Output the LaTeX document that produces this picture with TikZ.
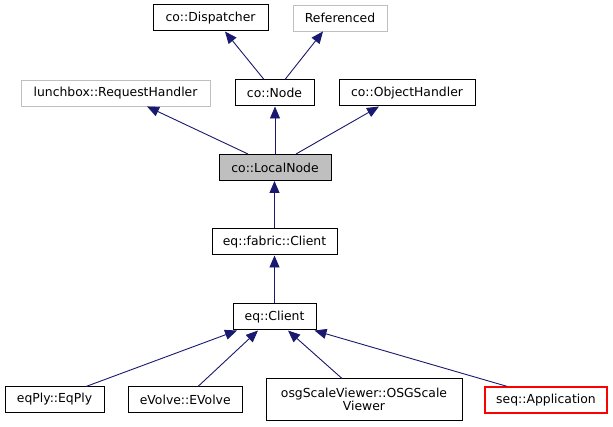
\documentclass[tikz,border=0pt]{standalone}
\usepackage{fontspec}
\setmainfont{DejaVu Sans}
\usetikzlibrary{arrows.meta}
\definecolor{edgeblue}{HTML}{191970}
\definecolor{greyline}{HTML}{BFBFBF}
\definecolor{localfill}{HTML}{BFBFBF}
\definecolor{redline}{HTML}{FF0000}
\begin{document}
\begin{tikzpicture}[x=1pt,y=-1pt,
  box/.style={draw=black,line width=1pt,fill=white,inner sep=0pt,align=center,
    minimum height=26pt,font=\fontsize{12.4}{14}\selectfont},
  greybox/.style={box,draw=greyline,line width=0.9pt},
  redbox/.style={box,draw=redline,line width=1.3pt},
  inh/.style={draw=edgeblue,line width=0.9pt,-{Triangle[length=12pt,width=10pt]},edgeblue}]
\useasboundingbox[fill=white] (0,0) rectangle (613,427);

\node[box,minimum width=115pt] (disp) at (210.5,18) {co::Dispatcher};
\node[greybox,minimum width=94pt] (ref) at (340,18) {Referenced};
\node[greybox,minimum width=189pt] (rh) at (115.5,93) {lunchbox::RequestHandler};
\node[box,minimum width=79pt] (cnode) at (274.5,93) {co::Node};
\node[box,minimum width=136pt] (oh) at (407,93) {co::ObjectHandler};
\node[box,fill=localfill,minimum width=112pt,minimum height=26pt] (local) at (275,167.5) {co::LocalNode};
\node[box,minimum width=125pt] (fabric) at (274.5,242) {eq::fabric::Client};
\node[box,minimum width=83pt] (client) at (274.5,317) {eq::Client};
\node[box,minimum width=99pt,minimum height=25pt] (eqply) at (54.5,399.5) {eqPly::EqPly};
\node[box,minimum width=114.5pt,minimum height=25pt] (evolve) at (185.25,399.5) {eVolve::EVolve};
\node[box,minimum width=196pt,minimum height=41pt,font=\fontsize{12.4}{13.5}\selectfont] (osg) at (364,399.5) {osgScaleViewer::OSGScale\\Viewer};
\node[redbox,minimum width=122pt] (seq) at (546,400) {seq::Application};

\draw[inh] ([xshift=-10.5pt]cnode.north) -- ([xshift=14.5pt]disp.south);
\draw[inh] ([xshift=10.5pt]cnode.north) -- ([xshift=-17pt]ref.south);
\draw[inh] ([xshift=-27pt]local.north) -- ([xshift=31.5pt]rh.south);
\draw[inh] (local.north) -- (local.north |- cnode.south);
\draw[inh] ([xshift=21pt]local.north) -- ([xshift=-28pt]oh.south);
\draw[inh] (fabric.north) -- (fabric.north |- local.south);
\draw[inh] (client.north) -- (client.north |- fabric.south);
\draw[inh] ([xshift=31.5pt]eqply.north) -- ([xshift=-37.5pt]client.south);
\draw[inh] ([xshift=12.75pt]evolve.north) -- ([xshift=-16.5pt]client.south);
\draw[inh] ([xshift=-22pt]osg.north) -- ([xshift=13.5pt]client.south);
\draw[inh] ([xshift=-39pt]seq.north) -- ([xshift=40pt]client.south);
\end{tikzpicture}
\end{document}
